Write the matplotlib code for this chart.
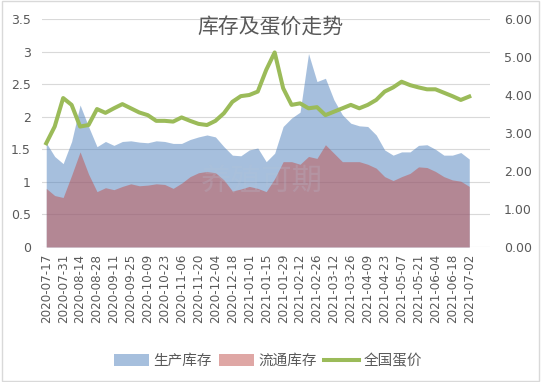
import matplotlib
matplotlib.use("Agg")
import matplotlib.pyplot as plt
from matplotlib.patches import Patch, Rectangle
from matplotlib.lines import Line2D
import numpy as np
import datetime as dt

plt.rcParams['font.family'] = ['Noto Sans CJK SC', 'DejaVu Sans']

start = dt.date(2020, 7, 17)
dates = [(start + dt.timedelta(weeks=i)).isoformat() for i in range(51)]

prod_stock = [1.60, 1.39, 1.28, 1.62, 2.18, 1.85, 1.54, 1.62, 1.56, 1.62,
              1.63, 1.61, 1.60, 1.63, 1.62, 1.59, 1.59, 1.65, 1.69, 1.72,
              1.69, 1.54, 1.41, 1.40, 1.49, 1.52, 1.31, 1.44, 1.85, 1.98,
              2.07, 2.97, 2.54, 2.59, 2.26, 2.03, 1.90, 1.86, 1.85, 1.72,
              1.49, 1.41, 1.46, 1.46, 1.56, 1.57, 1.50, 1.41, 1.41, 1.45, 1.35]
circ_stock = [0.90, 0.79, 0.76, 1.10, 1.46, 1.12, 0.85, 0.91, 0.88, 0.93,
              0.97, 0.94, 0.95, 0.97, 0.96, 0.90, 0.98, 1.08, 1.14, 1.16,
              1.14, 1.03, 0.86, 0.89, 0.93, 0.90, 0.85, 1.05, 1.31, 1.31,
              1.27, 1.39, 1.36, 1.57, 1.44, 1.31, 1.31, 1.31, 1.27, 1.21,
              1.08, 1.02, 1.08, 1.13, 1.23, 1.22, 1.16, 1.08, 1.03, 1.01, 0.93]
egg_price = [2.73, 3.17, 3.92, 3.74, 3.17, 3.21, 3.63, 3.53, 3.65, 3.76,
             3.65, 3.54, 3.47, 3.32, 3.32, 3.30, 3.41, 3.32, 3.24, 3.21,
             3.32, 3.52, 3.82, 3.97, 4.00, 4.09, 4.66, 5.12, 4.18, 3.74,
             3.78, 3.65, 3.68, 3.47, 3.56, 3.65, 3.74, 3.65, 3.74, 3.87,
             4.09, 4.20, 4.35, 4.26, 4.20, 4.15, 4.15, 4.06, 3.97, 3.87, 3.96]

series_names = ['生产库存', '流通库存', '全国蛋价']
title = '库存及蛋价走势'

blue = '#4f81bd'
red = '#c0504d'
green = '#9bbb59'
grey = '#595959'

W, H = 541, 382
fig = plt.figure(figsize=(W / 100, H / 100), dpi=100)
fig.patches.append(Rectangle((0.003, 0.003), 0.994, 0.994, transform=fig.transFigure,
                             fill=False, edgecolor='#d9d9d9', lw=1.0))

ax = fig.add_axes([42 / W, 1 - 247 / H, (490 - 42) / W, (247 - 19) / H])
x = np.arange(len(dates))
ax.fill_between(x, 0, prod_stock, color=blue, alpha=0.5, lw=0)
ax.fill_between(x, 0, circ_stock, color=red, alpha=0.5, lw=0)
ax.set_ylim(0, 3.5)
ax.set_yticks(np.arange(0, 3.51, 0.5))
ax.set_yticklabels(['0', '0.5', '1', '1.5', '2', '2.5', '3', '3.5'])
ax.set_xlim(-0.5, 52.45)
ax.set_xticks(x[::2])
ax.set_xticklabels(dates[::2], rotation=90, fontsize=8.6, color=grey, family='DejaVu Sans')
ax.tick_params(axis='both', length=0, pad=5)
ax.tick_params(axis='y', labelsize=9, labelcolor=grey, pad=8)
ax.grid(axis='y', color='#d9d9d9', lw=0.8)
ax.set_axisbelow(True)
for s in ax.spines.values():
    s.set_visible(False)

ax2 = ax.twinx()
ax2.plot(x, egg_price, color=green, lw=2.9, solid_joinstyle='round')
ax2.set_ylim(0, 6)
ax2.set_yticks(np.arange(0, 6.01, 1))
ax2.set_yticklabels([f'{v:.2f}' for v in np.arange(0, 6.01, 1)])
ax2.tick_params(axis='y', length=0, labelsize=9, labelcolor=grey, pad=10)
for s in ax2.spines.values():
    s.set_visible(False)

for lab in ax.get_yticklabels() + ax2.get_yticklabels():
    lab.set_family('DejaVu Sans')

fig.text(270 / W, 1 - 28 / H, title, ha='center', va='center', fontsize=15, color=grey)
fig.text(262 / W, 1 - 182 / H, '养殖可期', ha='center', va='center', fontsize=22,
         color='#b8c4d8', alpha=0.22)

handles = [Patch(facecolor=blue, alpha=0.5, edgecolor='none'),
           Patch(facecolor=red, alpha=0.5, edgecolor='none'),
           Line2D([0], [0], color=green, lw=2.9)]
fig.legend(handles, series_names, loc='center', bbox_to_anchor=(268 / W, 1 - 361 / H),
           ncol=3, frameon=False, fontsize=10.5, handlelength=2.4, handleheight=0.8,
           columnspacing=0.5, handletextpad=0.3, labelcolor=grey)

fig.savefig('out.png', dpi=100)
